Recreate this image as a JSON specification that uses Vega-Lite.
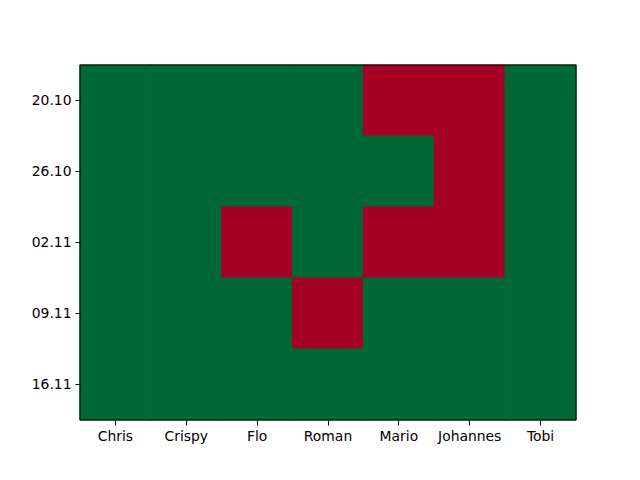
{
  "$schema": "https://vega.github.io/schema/vega-lite/v6.json",
  "width": 496,
  "height": 355,
  "autosize": {"type": "none"},
  "padding": {"left": 80, "top": 65, "right": 64, "bottom": 60},
  "background": "white",
  "config": {
    "view": {"stroke": null},
    "axis": {
      "labelFont": "DejaVu Sans",
      "labelFontSize": 13.9,
      "labelColor": "black",
      "tickColor": "black",
      "tickSize": 5,
      "tickWidth": 1,
      "labelPadding": 4,
      "domain": false,
      "grid": false,
      "title": null
    }
  },
  "layer": [
    {
      "data": {
        "values": [
          {"name": "Chris", "date": "20.10", "status": "ok"},
          {"name": "Crispy", "date": "20.10", "status": "ok"},
          {"name": "Flo", "date": "20.10", "status": "ok"},
          {"name": "Roman", "date": "20.10", "status": "ok"},
          {"name": "Mario", "date": "20.10", "status": "no"},
          {"name": "Johannes", "date": "20.10", "status": "no"},
          {"name": "Tobi", "date": "20.10", "status": "ok"},
          {"name": "Chris", "date": "26.10", "status": "ok"},
          {"name": "Crispy", "date": "26.10", "status": "ok"},
          {"name": "Flo", "date": "26.10", "status": "ok"},
          {"name": "Roman", "date": "26.10", "status": "ok"},
          {"name": "Mario", "date": "26.10", "status": "ok"},
          {"name": "Johannes", "date": "26.10", "status": "no"},
          {"name": "Tobi", "date": "26.10", "status": "ok"},
          {"name": "Chris", "date": "02.11", "status": "ok"},
          {"name": "Crispy", "date": "02.11", "status": "ok"},
          {"name": "Flo", "date": "02.11", "status": "no"},
          {"name": "Roman", "date": "02.11", "status": "ok"},
          {"name": "Mario", "date": "02.11", "status": "no"},
          {"name": "Johannes", "date": "02.11", "status": "no"},
          {"name": "Tobi", "date": "02.11", "status": "ok"},
          {"name": "Chris", "date": "09.11", "status": "ok"},
          {"name": "Crispy", "date": "09.11", "status": "ok"},
          {"name": "Flo", "date": "09.11", "status": "ok"},
          {"name": "Roman", "date": "09.11", "status": "no"},
          {"name": "Mario", "date": "09.11", "status": "ok"},
          {"name": "Johannes", "date": "09.11", "status": "ok"},
          {"name": "Tobi", "date": "09.11", "status": "ok"},
          {"name": "Chris", "date": "16.11", "status": "ok"},
          {"name": "Crispy", "date": "16.11", "status": "ok"},
          {"name": "Flo", "date": "16.11", "status": "ok"},
          {"name": "Roman", "date": "16.11", "status": "ok"},
          {"name": "Mario", "date": "16.11", "status": "ok"},
          {"name": "Johannes", "date": "16.11", "status": "ok"},
          {"name": "Tobi", "date": "16.11", "status": "ok"}
        ]
      },
      "mark": {"type": "rect", "strokeWidth": 1.2},
      "encoding": {
        "x": {
          "field": "name",
          "type": "nominal",
          "sort": ["Chris", "Crispy", "Flo", "Roman", "Mario", "Johannes", "Tobi"],
          "scale": {"paddingInner": 0, "paddingOuter": 0},
          "axis": {"labelAngle": 0}
        },
        "y": {
          "field": "date",
          "type": "nominal",
          "sort": ["20.10", "26.10", "02.11", "09.11", "16.11"],
          "scale": {"paddingInner": 0, "paddingOuter": 0}
        },
        "color": {
          "field": "status",
          "type": "nominal",
          "scale": {"domain": ["ok", "no"], "range": ["#006837", "#a50026"]},
          "legend": null
        },
        "stroke": {
          "field": "status",
          "type": "nominal",
          "scale": {"domain": ["ok", "no"], "range": ["#006837", "#a50026"]},
          "legend": null
        }
      }
    },
    {
      "data": {"values": [{"frame": 1}]},
      "mark": {"type": "rect", "fill": null, "filled": false, "stroke": "black", "strokeWidth": 1},
      "encoding": {}
    }
  ]
}
